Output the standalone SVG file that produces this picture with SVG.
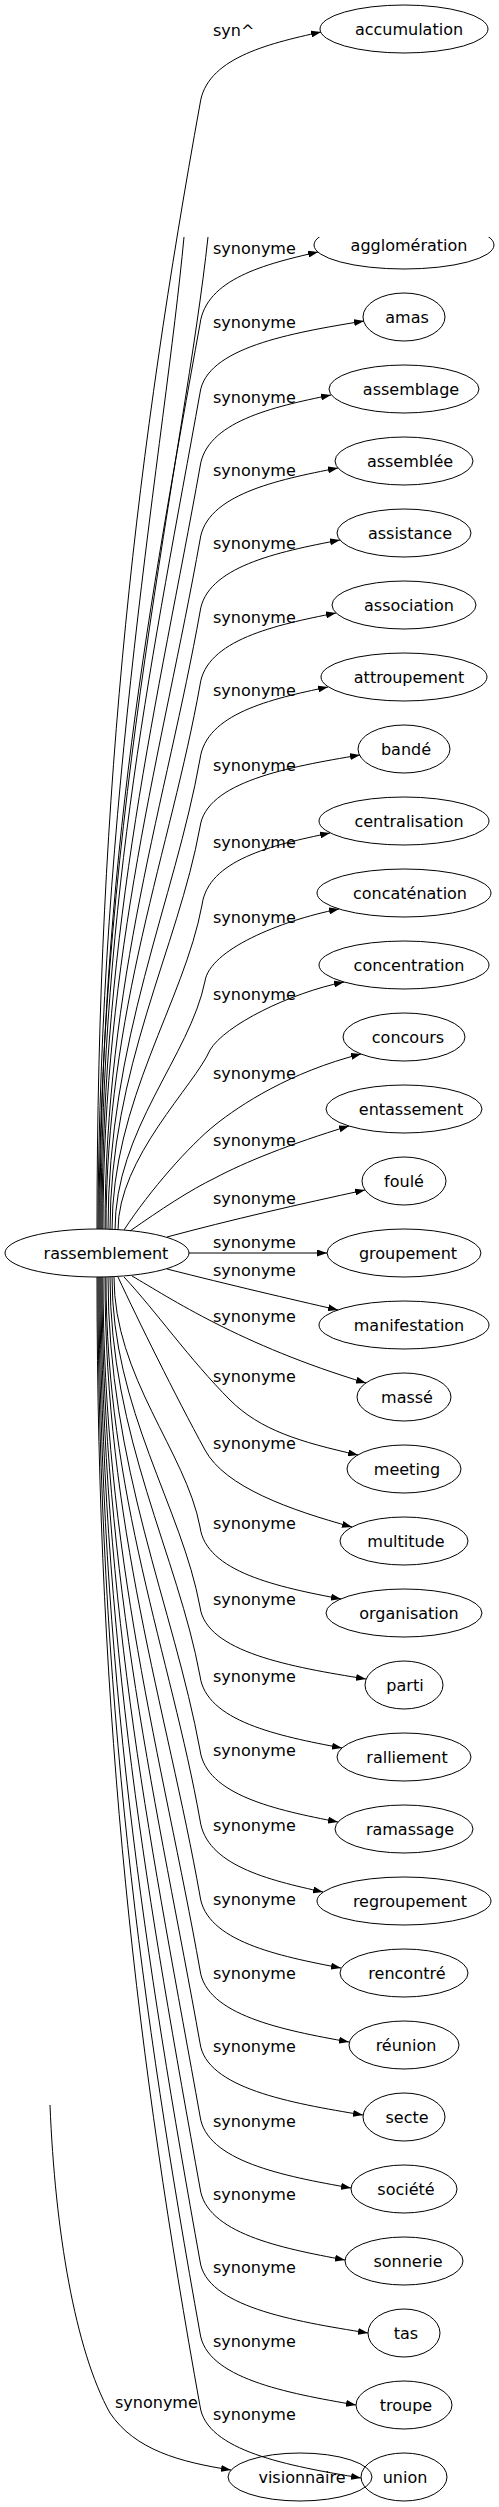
<svg xmlns="http://www.w3.org/2000/svg" width="499" height="2507" viewBox="0 0 499 2507">
<style>
text{font-family:"DejaVu Sans","Liberation Sans",sans-serif;font-size:16px;fill:#000}
.node text{text-anchor:middle}
.node ellipse{fill:none;stroke:#000;stroke-width:1}
.edges path{fill:none;stroke:#000;stroke-width:1}
.edges path.e{marker-end:url(#arr)}
</style>
<defs>
<marker id="arr" markerUnits="userSpaceOnUse" markerWidth="10" markerHeight="7" refX="10" refY="3.5" orient="auto"><path d="M0,0 L10,3.5 L0,7 z" fill="#000"/></marker>
<clipPath id="cut"><rect x="0" y="237" width="499" height="2270"/></clipPath>
</defs>
<rect width="499" height="2507" fill="#fff"/>
<g class="edges" id="edges">
<path class="e" d="M97,1229 C97,779 139,441.5 200,104 C206,59 266,44 321,32"/>
<path d="M98,1229 C99,800 165,440 184,237"/>
<path d="M99,1229 C99,820 185,450 208,237"/>
<path class="e" d="M100,1229 C100,867 151,595.5 200,324 C206,279 265,264 318,252"/>
<path class="e" d="M101,1229 C101,895 155,644 200,393 C206,348 290,333 364,321"/>
<path class="e" d="M102,1229 C102,924 159,696 200,467 C206,422 272,407 331,395"/>
<path class="e" d="M103,1229 C103,953 163,747 200,540 C206,495 276,480 338,468"/>
<path class="e" d="M105,1229 C105,982 167,797 200,612 C206,567 277,552 340,540"/>
<path class="e" d="M106,1229 C106,1011 171,848 200,685 C206,640 275,625 336,613"/>
<path class="e" d="M108,1229 C108,1041 175,900 200,759 C206,714 270,699 328,687"/>
<path class="e" d="M110,1230 C110,1068 178,948 200,827 C206,782 288,767 360,755"/>
<path class="e" d="M112,1230 C112,1100 184,1002 202,905 C208,860 272,845 330,833"/>
<path class="e" d="M115,1230 C115,1130 190,1056 205,981 C210,950 279,921 339,909"/>
<path class="e" d="M118,1230 C118,1158 195,1085 210,1050 C225,1025 290,993 344,982"/>
<path class="e" d="M124,1230 C150,1190 190,1145 215,1125 C240,1105 290,1072 361,1054"/>
<path class="e" d="M130,1231 C160,1210 190,1190 215,1178 C245,1162 290,1144 349,1126"/>
<path class="e" d="M167,1237 C230,1220 300,1204 365,1190"/>
<path class="e" d="M189,1253 L327,1253"/>
<path class="e" d="M167,1269 C230,1285 290,1299 338,1310"/>
<path class="e" d="M132,1276 C170,1298 240,1345 366,1383"/>
<path class="e" d="M124,1277 C155,1310 190,1360 230,1400 C260,1430 300,1442 358,1455"/>
<path class="e" d="M118,1277 C138,1320 175,1395 205,1450 C225,1487 290,1510 352,1527"/>
<path class="e" d="M114,1277 C114,1377 186,1452 200,1527 C206,1572 278,1587 341,1599"/>
<path class="e" d="M112,1277 C112,1409 182,1508 200,1607 C206,1652 291,1667 366,1679"/>
<path class="e" d="M110,1277 C110,1437 178,1556 200,1676 C206,1721 278,1736 342,1748"/>
<path class="e" d="M108,1277 C108,1466 174,1608 200,1750 C206,1795 276,1810 338,1822"/>
<path class="e" d="M106,1277 C106,1494 171,1657 200,1820 C206,1865 268,1880 323,1892"/>
<path class="e" d="M105,1277 C105,1525 167,1710 200,1896 C206,1941 278,1956 341,1968"/>
<path class="e" d="M103,1277 C103,1554 163,1762 200,1970 C206,2015 282,2030 349,2042"/>
<path class="e" d="M102,1277 C102,1583 159,1813 200,2043 C206,2088 290,2103 363,2115"/>
<path class="e" d="M101,1277 C101,1613 155,1864 200,2116 C206,2161 283,2176 351,2188"/>
<path class="e" d="M100,1277 C100,1641 151,1915 200,2188 C206,2233 280,2248 345,2260"/>
<path class="e" d="M99,1277 C99,1671 147,1966 200,2261 C206,2306 292,2321 368,2333"/>
<path class="e" d="M98,1277 C98,1699 143,2016 200,2333 C206,2378 286,2393 356,2405"/>
<path class="e" d="M97,1277 C97,1729 139,2067 200,2406 C206,2451 289,2466 361,2478"/>
<path class="e" d="M50,2105 C55,2230 75,2350 110,2413 C135,2450 180,2462 231,2470"/>
<text x="213" y="36">syn^</text>
<text x="213" y="254">synonyme</text>
<text x="213" y="328">synonyme</text>
<text x="213" y="403">synonyme</text>
<text x="213" y="476">synonyme</text>
<text x="213" y="549">synonyme</text>
<text x="213" y="623">synonyme</text>
<text x="213" y="696">synonyme</text>
<text x="213" y="771">synonyme</text>
<text x="213" y="848">synonyme</text>
<text x="213" y="923">synonyme</text>
<text x="213" y="1000">synonyme</text>
<text x="213" y="1079">synonyme</text>
<text x="213" y="1146">synonyme</text>
<text x="213" y="1204">synonyme</text>
<text x="213" y="1248">synonyme</text>
<text x="213" y="1276">synonyme</text>
<text x="213" y="1322">synonyme</text>
<text x="213" y="1382">synonyme</text>
<text x="213" y="1449">synonyme</text>
<text x="213" y="1529">synonyme</text>
<text x="213" y="1605">synonyme</text>
<text x="213" y="1682">synonyme</text>
<text x="213" y="1756">synonyme</text>
<text x="213" y="1831">synonyme</text>
<text x="213" y="1905">synonyme</text>
<text x="213" y="1979">synonyme</text>
<text x="213" y="2052">synonyme</text>
<text x="213" y="2127">synonyme</text>
<text x="213" y="2200">synonyme</text>
<text x="213" y="2273">synonyme</text>
<text x="213" y="2347">synonyme</text>
<text x="213" y="2420">synonyme</text>
<text x="115" y="2408">synonyme</text>
</g>
<g class="node" id="n-rassemblement"><ellipse cx="97" cy="1253" rx="92" ry="24"/><text x="106" y="1259">rassemblement</text></g>
<g class="node" id="n-accumulation"><ellipse cx="404" cy="29" rx="84" ry="24"/><text x="409" y="35">accumulation</text></g>
<g class="node" id="n-agglomeration" clip-path="url(#cut)"><ellipse cx="404" cy="245" rx="90" ry="24"/><text x="409" y="251">agglomération</text></g>
<g class="node" id="n-amas"><ellipse cx="404" cy="317" rx="41" ry="24"/><text x="407" y="323">amas</text></g>
<g class="node" id="n-assemblage"><ellipse cx="404" cy="389" rx="75" ry="24"/><text x="411" y="395">assemblage</text></g>
<g class="node" id="n-assemblee"><ellipse cx="404" cy="461" rx="69" ry="24"/><text x="410" y="467">assemblée</text></g>
<g class="node" id="n-assistance"><ellipse cx="404" cy="533" rx="67" ry="24"/><text x="410" y="539">assistance</text></g>
<g class="node" id="n-association"><ellipse cx="404" cy="605" rx="72" ry="24"/><text x="409" y="611">association</text></g>
<g class="node" id="n-attroupement"><ellipse cx="404" cy="677" rx="83" ry="24"/><text x="409" y="683">attroupement</text></g>
<g class="node" id="n-bande"><ellipse cx="404" cy="749" rx="46" ry="24"/><text x="406" y="755">bandé</text></g>
<g class="node" id="n-centralisation"><ellipse cx="404" cy="821" rx="85" ry="24"/><text x="409" y="827">centralisation</text></g>
<g class="node" id="n-concatenation"><ellipse cx="404" cy="893" rx="87" ry="24"/><text x="410" y="899">concaténation</text></g>
<g class="node" id="n-concentration"><ellipse cx="404" cy="965" rx="85" ry="24"/><text x="409" y="971">concentration</text></g>
<g class="node" id="n-concours"><ellipse cx="404" cy="1037" rx="61" ry="24"/><text x="408" y="1043">concours</text></g>
<g class="node" id="n-entassement"><ellipse cx="404" cy="1109" rx="78" ry="24"/><text x="411" y="1115">entassement</text></g>
<g class="node" id="n-foule"><ellipse cx="404" cy="1181" rx="42" ry="24"/><text x="404" y="1187">foulé</text></g>
<g class="node" id="n-groupement"><ellipse cx="404" cy="1253" rx="77" ry="24"/><text x="408" y="1259">groupement</text></g>
<g class="node" id="n-manifestation"><ellipse cx="404" cy="1325" rx="85" ry="24"/><text x="409" y="1331">manifestation</text></g>
<g class="node" id="n-masse"><ellipse cx="404" cy="1397" rx="47" ry="24"/><text x="407" y="1403">massé</text></g>
<g class="node" id="n-meeting"><ellipse cx="404" cy="1469" rx="57" ry="24"/><text x="407" y="1475">meeting</text></g>
<g class="node" id="n-multitude"><ellipse cx="404" cy="1541" rx="64" ry="24"/><text x="406" y="1547">multitude</text></g>
<g class="node" id="n-organisation"><ellipse cx="404" cy="1613" rx="78" ry="24"/><text x="409" y="1619">organisation</text></g>
<g class="node" id="n-parti"><ellipse cx="404" cy="1685" rx="39" ry="24"/><text x="405" y="1691">parti</text></g>
<g class="node" id="n-ralliement"><ellipse cx="404" cy="1757" rx="67" ry="24"/><text x="407" y="1763">ralliement</text></g>
<g class="node" id="n-ramassage"><ellipse cx="404" cy="1829" rx="69" ry="24"/><text x="410" y="1835">ramassage</text></g>
<g class="node" id="n-regroupement"><ellipse cx="404" cy="1901" rx="87" ry="24"/><text x="410" y="1907">regroupement</text></g>
<g class="node" id="n-rencontre"><ellipse cx="404" cy="1973" rx="64" ry="24"/><text x="407" y="1979">rencontré</text></g>
<g class="node" id="n-reunion"><ellipse cx="404" cy="2045" rx="55" ry="24"/><text x="406" y="2051">réunion</text></g>
<g class="node" id="n-secte"><ellipse cx="404" cy="2117" rx="41" ry="24"/><text x="407" y="2123">secte</text></g>
<g class="node" id="n-societe"><ellipse cx="404" cy="2189" rx="53" ry="24"/><text x="406" y="2195">société</text></g>
<g class="node" id="n-sonnerie"><ellipse cx="404" cy="2261" rx="59" ry="24"/><text x="408" y="2267">sonnerie</text></g>
<g class="node" id="n-tas"><ellipse cx="404" cy="2333" rx="36" ry="24"/><text x="406" y="2339">tas</text></g>
<g class="node" id="n-troupe"><ellipse cx="404" cy="2405" rx="48" ry="24"/><text x="406" y="2411">troupe</text></g>
<g class="node" id="n-union"><ellipse cx="404" cy="2477" rx="43" ry="24"/><text x="405" y="2483">union</text></g>
<g class="node" id="n-visionnaire"><ellipse cx="300" cy="2477" rx="72" ry="24"/><text x="302" y="2483">visionnaire</text></g>
</svg>
